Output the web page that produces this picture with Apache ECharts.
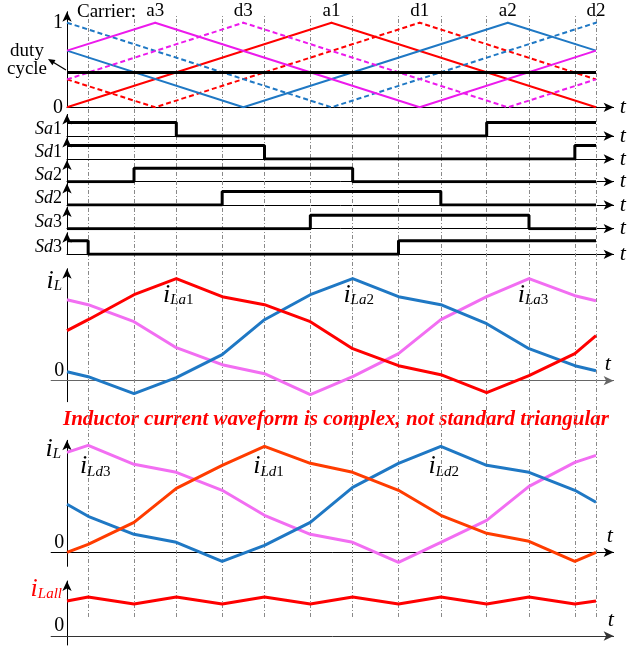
<!DOCTYPE html>
<html>
<head>
<meta charset="utf-8">
<script src="https://cdn.jsdelivr.net/npm/echarts@6/dist/echarts.min.js"></script>
<style>
  html, body { margin: 0; padding: 0; background: #fff; }
  #chart { width: 627px; height: 651px; }
</style>
</head>
<body>
<div id="chart"></div>
<script>
// 时间轴: 一个载波周期分成 6 份
var tBreaks = [0, 0.24, 0.76, 1.24, 1.76, 2.24, 2.76, 3.24, 3.76, 4.24, 4.76, 5.24, 5.76, 6];
var dashLines = [0.24, 0.76, 1.24, 1.76, 2.24, 2.76, 3.24, 3.76, 4.24, 4.76, 5.24, 5.76, 6];
var duty = 0.41;

// 载波 (顶点)
var carrierA1 = [[0, 0], [3, 1], [6, 0]];
var carrierD1 = [[0, 0.33], [1, 0], [4, 1], [6, 0.33]];
var carrierA2 = [[0, 0.67], [2, 0], [5, 1], [6, 0.67]];
var carrierD2 = [[0, 1], [3, 0], [6, 1]];
var carrierA3 = [[0, 0.67], [1, 1], [4, 0], [6, 0.67]];
var carrierD3 = [[0, 0.33], [2, 1], [5, 0], [6, 0.33]];

// 开关信号 (跳变点)
var sa1 = [[0, 1], [1.24, 0], [4.76, 1], [6, 1]];
var sd1 = [[0, 1], [2.24, 0], [5.76, 1], [6, 1]];
var sa2 = [[0, 0], [0.76, 1], [3.24, 0], [6, 0]];
var sd2 = [[0, 0], [1.76, 1], [4.24, 0], [6, 0]];
var sa3 = [[0, 0], [2.76, 1], [5.24, 0], [6, 0]];
var sd3 = [[0, 1], [0.24, 0], [3.76, 1], [6, 1]];

// 电感电流 (在 tBreaks 处取值)
var iLa1 = [0.50, 0.61, 0.86, 1.02, 0.84, 0.76, 0.59, 0.32, 0.15, 0.06, -0.12, 0.05, 0.27, 0.45];
var iLa2 = [0.09, 0.04, -0.13, 0.03, 0.26, 0.61, 0.86, 1.02, 0.84, 0.76, 0.57, 0.32, 0.15, 0.10];
var iLa3 = [0.81, 0.76, 0.59, 0.33, 0.16, 0.07, -0.14, 0.04, 0.27, 0.61, 0.84, 1.02, 0.85, 0.80];
var iLd1 = [0.00, 0.08, 0.30, 0.64, 0.87, 1.06, 0.89, 0.80, 0.62, 0.37, 0.19, 0.11, -0.09, 0.00];
var iLd2 = [0.48, 0.36, 0.18, 0.10, -0.09, 0.07, 0.30, 0.65, 0.89, 1.06, 0.87, 0.80, 0.62, 0.50];
var iLd3 = [1.00, 1.07, 0.88, 0.80, 0.62, 0.37, 0.18, 0.10, -0.10, 0.10, 0.32, 0.66, 0.90, 0.97];
var iLall = [0.35, 0.39, 0.32, 0.39, 0.32, 0.39, 0.32, 0.39, 0.32, 0.39, 0.32, 0.39, 0.32, 0.35];

var FONT = '"Liberation Serif", "Times New Roman", serif';
var RED = '#ff0000', MAG = '#ec1aec', BLUE = '#1f78c4', VIOLET = '#f26ef2', ORANGE = '#ff3c00';

var U = 529 / 6;      // 每单位像素
var LEFT = 67;
var XMAX = 6.2;
var XMIN_IL = -0.18;
var sigBase = [136, 159, 181.7, 205, 228.7, 254.3];
var sigNames = ['{it|Sa}{n|1}', '{it|Sd}{n|1}', '{it|Sa}{n|2}', '{it|Sd}{n|2}', '{it|Sa}{n|3}', '{it|Sd}{n|3}'];
var sigData = [sa1, sd1, sa2, sd2, sa3, sd3];

var myChart = echarts.init(document.getElementById('chart'));

var grids = [], xAxes = [], yAxes = [], series = [];

function addGrid(top, height, xmin) {
	grids.push({
		left: LEFT + xmin * U, top: top, width: (XMAX - xmin) * U, height: height,
		containLabel: false, outerBoundsMode: 'none'
	});
	return grids.length - 1;
}
function xAx(gi, xmin, color, tStyle, gap) {
	xAxes.push({
		gridIndex: gi, type: 'value', min: xmin, max: XMAX,
		axisLine: { show: true, onZero: true, symbol: ['none', 'arrow'], symbolSize: [7, 10], lineStyle: { color: color, width: 1 } },
		axisTick: { show: false }, axisLabel: { show: false }, splitLine: { show: false },
		name: tStyle ? 't' : '', nameLocation: 'end', nameGap: gap, nameMoveOverlap: false,
		nameTextStyle: tStyle
	});
}
function yAx(gi, min, max, extra) {
	var a = {
		gridIndex: gi, type: 'value', min: min, max: max,
		axisLine: { show: true, onZero: true, symbol: ['none', 'arrow'], symbolSize: [7, 10], lineStyle: { color: '#000', width: 1 } },
		axisTick: { show: false }, axisLabel: { show: false }, splitLine: { show: false },
		nameMoveOverlap: false
	};
	for (var k in extra) a[k] = extra[k];
	yAxes.push(a);
}
var tSide = { fontFamily: FONT, fontStyle: 'italic', fontSize: 22, color: '#000', verticalAlign: 'middle', align: 'left' };
var tAbove = { fontFamily: FONT, fontStyle: 'italic', fontSize: 22, color: '#000', verticalAlign: 'bottom', align: 'left', padding: [0, 0, 5, 0] };
function zeroLabel(extraValue, margin) {
	return {
		show: true, margin: margin, fontSize: 20, fontFamily: FONT, color: '#000', verticalAlign: 'bottom',
		formatter: function (v) {
			if (Math.abs(v) < 1e-6) return '0';
			if (extraValue && Math.abs(v - 1) < 1e-6) return '1';
			return '';
		}
	};
}

// 0: 载波
var gC = addGrid(107.3 - 1.13 * 84.6, 1.13 * 84.6, 0);
xAx(gC, 0, '#000', tSide, 6);
var carrierLabel = zeroLabel(true, 4);
carrierLabel.verticalAlign = 'middle';
yAx(gC, 0, 1.13, { axisLabel: carrierLabel });

// 1-6: 开关信号
for (var i = 0; i < 6; i++) {
	var g = addGrid(sigBase[i] - 1.6 * 13.5, 1.6 * 13.5, 0);
	xAx(g, 0, '#000', tSide, 6);
	yAx(g, 0, 1.6, {
		name: sigNames[i], nameLocation: 'middle', nameRotate: 0, nameGap: 5,
		nameTextStyle: {
			align: 'right', verticalAlign: 'middle', padding: [8, 0, 0, 0],
			rich: {
				it: { fontFamily: FONT, fontStyle: 'italic', fontSize: 18, color: '#000' },
				n: { fontFamily: FONT, fontSize: 18, color: '#000' }
			}
		}
	});
}

// 7: iL (a), 8: iL (d), 9: iLall  (标签相对网格左边, 故 margin 为负)
var gA = addGrid(380.7 - 112, 133, XMIN_IL);
xAx(gA, XMIN_IL, '#666', tAbove, -9);
yAx(gA, -0.21, 1.12, { axisLabel: zeroLabel(false, -13) });
var gD = addGrid(552.3 - 112, 126, XMIN_IL);
xAx(gD, XMIN_IL, '#000', tAbove, -7);
yAx(gD, -0.14, 1.12, { axisLabel: zeroLabel(false, -13) });
var gL = addGrid(636 - 55, 64, XMIN_IL);
xAx(gL, XMIN_IL, '#333', tAbove, -6);
yAx(gL, -0.09, 0.55, { axisLabel: zeroLabel(false, -13) });

// 10: 竖虚线
var gV = addGrid(15, 602, 0);
xAxes.push({ gridIndex: gV, type: 'value', min: 0, max: XMAX, show: false });
yAxes.push({ gridIndex: gV, type: 'value', min: 0, max: 1, show: false });

series.push({
	type: 'line', xAxisIndex: gV, yAxisIndex: gV, data: [], silent: true, z: 1,
	markLine: {
		silent: true, symbol: ['none', 'none'], z: 1, animation: false,
		label: { show: false },
		lineStyle: { color: '#8a8a8a', width: 1, type: [4, 2, 1, 2] },
		data: dashLines.map(function (t) { return { xAxis: t }; })
	}
});

function carrier(pts, name, color, dashed) {
	var last = -1;
	pts.forEach(function (p, k) { if (p[1] === 1) last = k; });
	var data = pts.map(function (p, k) {
		if (k !== last) return p;
		return {
			value: p, symbol: 'circle', symbolSize: 2,
			label: { show: true, position: 'top', distance: 1, formatter: name, fontFamily: FONT, fontSize: 19, color: '#000' }
		};
	});
	series.push({
		type: 'line', xAxisIndex: gC, yAxisIndex: gC, data: data, symbol: 'none',
		lineStyle: { color: color, width: 2, type: dashed ? [5, 3] : 'solid' },
		itemStyle: { color: color }, emphasis: { disabled: true }
	});
}
carrier(carrierA1, 'a1', RED, false);
carrier(carrierD1, 'd1', RED, true);
carrier(carrierA2, 'a2', BLUE, false);
carrier(carrierD2, 'd2', BLUE, true);
carrier(carrierA3, 'a3', MAG, false);
carrier(carrierD3, 'd3', MAG, true);
series.push({
	type: 'line', xAxisIndex: gC, yAxisIndex: gC, data: [[0, duty], [6, duty]], symbol: 'none',
	lineStyle: { color: '#000', width: 3 }, z: 3
});

sigData.forEach(function (d, k) {
	series.push({
		type: 'line', xAxisIndex: k + 1, yAxisIndex: k + 1, data: d, step: 'end', symbol: 'none',
		lineStyle: { color: '#000', width: 3 }
	});
});

var labelRich = {
	i: { fontFamily: FONT, fontStyle: 'italic', fontSize: 26, color: '#000', verticalAlign: 'bottom' },
	s: { fontFamily: FONT, fontStyle: 'italic', fontSize: 15, color: '#000', verticalAlign: 'bottom' },
	n: { fontFamily: FONT, fontSize: 15, color: '#000', verticalAlign: 'bottom' }
};
function curve(vals, gi, color, text, dist, dx) {
	var mx = Math.max.apply(null, vals);
	var k = vals.indexOf(mx);
	var data = vals.map(function (v, j) { return [tBreaks[j], v]; });
	if (text) {
		data[k] = {
			value: data[k], symbol: 'circle', symbolSize: 2,
			label: { show: true, position: 'bottom', distance: dist, offset: [dx, 0], formatter: text, rich: labelRich }
		};
	}
	series.push({
		type: 'line', xAxisIndex: gi, yAxisIndex: gi, data: data, symbol: 'none',
		lineStyle: { color: color, width: 3 }, itemStyle: { color: color }, emphasis: { disabled: true }
	});
}
curve(iLa3, gA, VIOLET, '{i|i}{s|La}{n|3}', 2, 4);
curve(iLa2, gA, BLUE, '{i|i}{s|La}{n|2}', 2, 6);
curve(iLa1, gA, RED, '{i|i}{s|La}{n|1}', 2, 2);
curve(iLd3, gD, VIOLET, '{i|i}{s|Ld}{n|3}', 7, 7);
curve(iLd2, gD, BLUE, '{i|i}{s|Ld}{n|2}', 6, 3);
curve(iLd1, gD, ORANGE, '{i|i}{s|Ld}{n|1}', 6, 4);
curve(iLall, gL, RED, null);

var richI = {
	i: { fontFamily: FONT, fontStyle: 'italic', fontSize: 26, verticalAlign: 'bottom' },
	s: { fontFamily: FONT, fontStyle: 'italic', fontSize: 15, verticalAlign: 'bottom' }
};

var option = {
	animation: false,
	backgroundColor: '#fff',
	grid: grids,
	xAxis: xAxes,
	yAxis: yAxes,
	series: series,
	graphic: [
		{ type: 'text', x: 77, y: 12, style: { text: 'Carrier:', fontFamily: FONT, fontSize: 19, fill: '#000', align: 'left', verticalAlign: 'middle' } },
		{ type: 'text', x: 27, y: 60, style: { text: 'duty\ncycle', fontFamily: FONT, fontSize: 19, lineHeight: 18, fill: '#000', align: 'center', verticalAlign: 'middle' } },
		{ type: 'line', shape: { x1: 66, y1: 70, x2: 52, y2: 61.5 }, style: { stroke: '#000', lineWidth: 1.3 } },
		{ type: 'polygon', shape: { points: [[48, 59], [55.5, 60.1], [52.4, 65.2]] }, style: { fill: '#000' } },
		{ type: 'text', x: 62, y: 294, style: { text: '{i|i}{s|L}', rich: richI, fill: '#000', align: 'right', verticalAlign: 'bottom' } },
		{ type: 'text', x: 61, y: 462, style: { text: '{i|i}{s|L}', rich: richI, fill: '#000', align: 'right', verticalAlign: 'bottom' } },
		{ type: 'text', x: 62, y: 602, style: { text: '{i|i}{s|Lall}', rich: richI, fill: RED, align: 'right', verticalAlign: 'bottom' } },
		{ type: 'text', x: 336, y: 420, style: { text: 'Inductor current waveform is complex, not standard triangular', fontFamily: FONT, fontSize: 21, fontStyle: 'italic', fontWeight: 'bold', fill: RED, align: 'center', verticalAlign: 'middle' } }
	]
};
myChart.setOption(option);
</script>
</body>
</html>
